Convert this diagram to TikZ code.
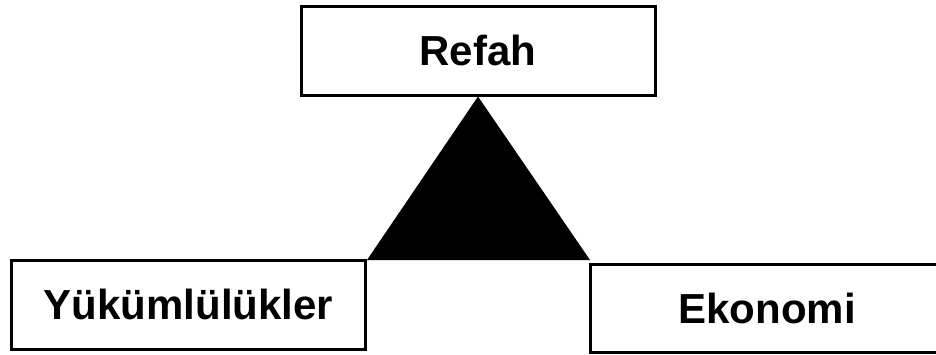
\documentclass[tikz,border=0pt]{standalone}
\usepackage{fontspec}
\setmainfont{Liberation Sans}
\usepackage{tikz}

\begin{document}
\begin{tikzpicture}[x=1pt,y=-1pt,
    kutu/.style={draw=black,line width=3pt,minimum width=354pt,minimum height=89pt,
      inner sep=0pt,font=\fontsize{42}{50}\selectfont\bfseries}]
  \useasboundingbox (0,0) rectangle (936,354);
  \node[kutu] (refah) at (478,50.5) {Refah};
  \node[kutu] (yuk) at (188.5,304.5) {Yükümlülükler};
  \node[kutu,minimum height=88pt] (eko) at (767,308.5) {Ekonomi};
  \fill[black] (refah.south) -- (367,260) -- (590,260) -- cycle;
\end{tikzpicture}
\end{document}
